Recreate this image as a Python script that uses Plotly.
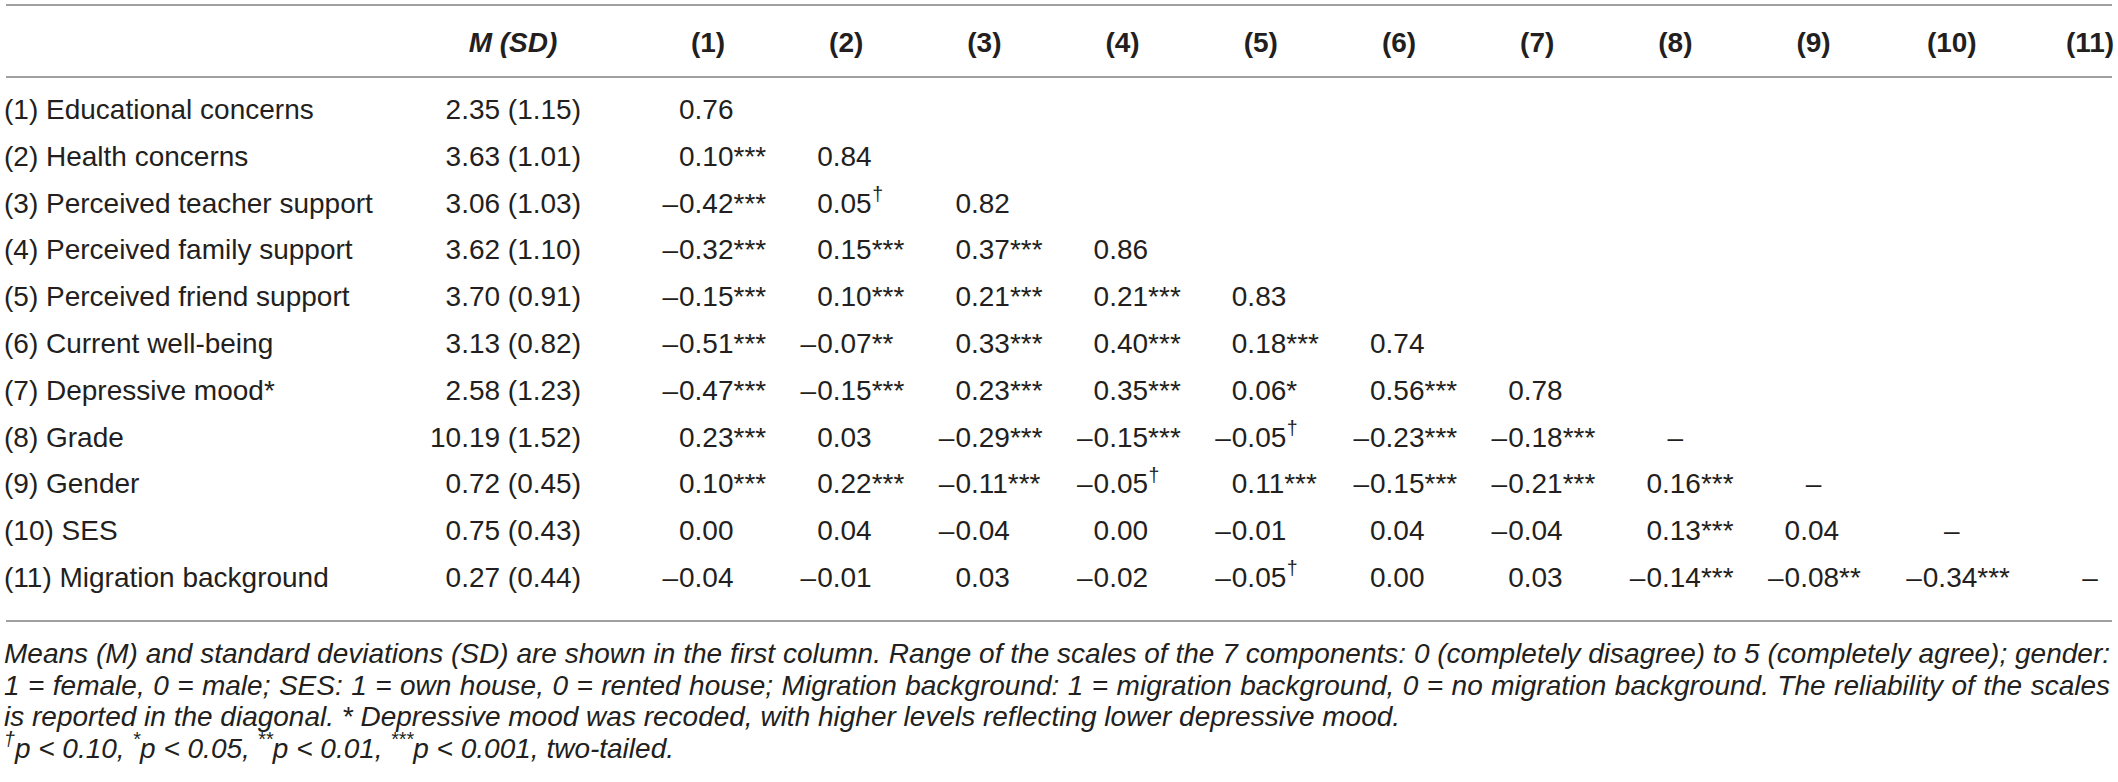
import plotly.graph_objects as go

# ---------------- data ----------------
row_labels = [
    "(1) Educational concerns",
    "(2) Health concerns",
    "(3) Perceived teacher support",
    "(4) Perceived family support",
    "(5) Perceived friend support",
    "(6) Current well-being",
    "(7) Depressive mood*",
    "(8) Grade",
    "(9) Gender",
    "(10) SES",
    "(11) Migration background",
]
col_headers = ["(1)", "(2)", "(3)", "(4)", "(5)", "(6)", "(7)", "(8)", "(9)", "(10)", "(11)"]
means = [2.35, 3.63, 3.06, 3.62, 3.70, 3.13, 2.58, 10.19, 0.72, 0.75, 0.27]
sds = [1.15, 1.01, 1.03, 1.10, 0.91, 0.82, 1.23, 1.52, 0.45, 0.43, 0.44]
reliability = [0.76, 0.84, 0.82, 0.86, 0.83, 0.74, 0.78, None, None, None, None]
corr = [
    [],
    [0.10],
    [-0.42, 0.05],
    [-0.32, 0.15, 0.37],
    [-0.15, 0.10, 0.21, 0.21],
    [-0.51, -0.07, 0.33, 0.40, 0.18],
    [-0.47, -0.15, 0.23, 0.35, 0.06, 0.56],
    [0.23, 0.03, -0.29, -0.15, -0.05, -0.23, -0.18],
    [0.10, 0.22, -0.11, -0.05, 0.11, -0.15, -0.21, 0.16],
    [0.00, 0.04, -0.04, 0.00, -0.01, 0.04, -0.04, 0.13, 0.04],
    [-0.04, -0.01, 0.03, -0.02, -0.05, 0.00, 0.03, -0.14, -0.08, -0.34],
]
sig = [
    [],
    ["***"],
    ["***", "†"],
    ["***", "***", "***"],
    ["***", "***", "***", "***"],
    ["***", "**", "***", "***", "***"],
    ["***", "***", "***", "***", "*", "***"],
    ["***", "", "***", "***", "†", "***", "***"],
    ["***", "***", "***", "†", "***", "***", "***", "***"],
    ["", "", "", "", "", "", "", "***", ""],
    ["", "", "", "", "†", "", "", "***", "**", "***"],
]
note_lines = [
    "Means (M) and standard deviations (SD) are shown in the first column. Range of the scales of the 7 components: 0 (completely disagree) to 5 (completely agree); gender:",
    "1 = female, 0 = male; SES: 1 = own house, 0 = rented house; Migration background: 1 = migration background, 0 = no migration background. The reliability of the scales",
    "is reported in the diagonal. * Depressive mood was recoded, with higher levels reflecting lower depressive mood.",
]
sig_marks = ["†", "*", "**", "***"]
sig_levels = ["0.10", "0.05", "0.01", "0.001"]
sig_tail = "two-tailed."

# ---------------- layout constants ----------------
W, H = 2118, 782
FONT = "Liberation Sans, Arial, sans-serif"
INK = "#231f20"
RULE = "#a0a0a0"
FS = 28
FS_NOTE = 28
SUP = 0.7           # superscript size factor
SUP_RAISE = 0.42    # superscript baseline raise (x font size)
LABEL_X = 4
MSD_RIGHT = 581
MSD_HEAD_X = 513
COL0, COLSTEP = 679, 138.2
HEAD_OFF = 29
HEAD_Y = 45
ROW0, ROWH = 112, 46.8
RULES_Y = [5, 77, 621]
RULE_X0, RULE_X1 = 6, 2112
NOTE_X0, NOTE_X1 = 4, 2110
NOTE_Y0, NOTE_DY = 656, 31.7

digit_x = [COL0 + j * COLSTEP for j in range(len(col_headers))]
head_x = [d + HEAD_OFF for d in digit_x]
row_y = [ROW0 + i * ROWH for i in range(len(row_labels))]

# Liberation Sans (Arial-metric) advance widths, 1/1000 em
AW = {' ': 278, '(': 333, ')': 333, '*': 389, ',': 278, '-': 333, '.': 278, ':': 278, ';': 278,
      '=': 584, '<': 584, '†': 556}
for ch in "0123456789":
    AW[ch] = 556
AW.update({'A': 667, 'B': 667, 'C': 722, 'D': 722, 'E': 667, 'F': 611, 'G': 778, 'H': 722, 'I': 278,
           'J': 500, 'K': 667, 'L': 556, 'M': 833, 'N': 722, 'O': 778, 'P': 667, 'Q': 778, 'R': 722,
           'S': 667, 'T': 611, 'U': 722, 'V': 667, 'W': 944, 'X': 667, 'Y': 667, 'Z': 611,
           'a': 556, 'b': 556, 'c': 500, 'd': 556, 'e': 556, 'f': 278, 'g': 556, 'h': 556, 'i': 222,
           'j': 222, 'k': 500, 'l': 222, 'm': 833, 'n': 556, 'o': 556, 'p': 556, 'q': 556, 'r': 333,
           's': 500, 't': 278, 'u': 556, 'v': 500, 'w': 722, 'x': 500, 'y': 500, 'z': 500})


def text_w(s, fs):
    return sum(AW.get(c, 556) for c in s) / 1000.0 * fs


def sup_y(y, fs):
    # y for a 'middle' positioned superscript whose baseline is raised above the main text's
    base = y + 0.25 * fs
    return base - SUP_RAISE * fs - 0.25 * fs * SUP


# ---------------- build text marks ----------------
body_x, body_y, body_t = [], [], []
dag_x, dag_y = [], []
minus_x, minus_y = [], []
dash_x, dash_y = [], []
for i in range(len(row_labels)):
    for j, v in enumerate(corr[i]):
        num = f"{abs(v):.2f}"
        s = sig[i][j]
        body_x.append(digit_x[j]); body_y.append(row_y[i])
        body_t.append(num + ("" if s == "†" else s))
        if s == "†":
            dag_x.append(digit_x[j] + text_w(num, FS) + 0.5); dag_y.append(sup_y(row_y[i], FS))
        if v < 0:
            minus_x.append(digit_x[j] - 1); minus_y.append(row_y[i])
    if reliability[i] is not None:
        body_x.append(digit_x[i]); body_y.append(row_y[i]); body_t.append(f"{reliability[i]:.2f}")
    else:
        dash_x.append(head_x[i]); dash_y.append(row_y[i])

fig = go.Figure()


def add_text(x, y, text, pos, size=FS, style="normal", weight="normal"):
    fig.add_trace(go.Scatter(
        x=x, y=y, text=text, mode="text", textposition=pos, cliponaxis=False,
        hoverinfo="skip", showlegend=False,
        textfont=dict(family=FONT, size=size, color=INK, style=style, weight=weight)))


# header
add_text([MSD_HEAD_X], [HEAD_Y], ["M (SD)"], "middle center", style="italic", weight="bold")
add_text(head_x, [HEAD_Y] * len(col_headers), col_headers, "middle center", weight="bold")
# row labels and M (SD)
add_text([LABEL_X] * len(row_labels), row_y, row_labels, "middle right")
add_text([MSD_RIGHT] * len(row_labels), row_y,
         [f"{m:.2f} ({s:.2f})" for m, s in zip(means, sds)], "middle left")
# correlations
add_text(body_x, body_y, body_t, "middle right")
add_text(dag_x, dag_y, ["†"] * len(dag_x), "middle right", size=FS * SUP)
add_text(minus_x, minus_y, ["–"] * len(minus_x), "middle left")
add_text(dash_x, dash_y, ["–"] * len(dash_x), "middle center")

# notes: first two lines justified to the full width
nx, ny, nt = [], [], []
for k, line in enumerate(note_lines):
    y = NOTE_Y0 + k * NOTE_DY
    words = line.split(" ")
    if k < 2:
        widths = [text_w(w, FS_NOTE) for w in words]
        gap = (NOTE_X1 - NOTE_X0 - sum(widths)) / (len(words) - 1)
        x = NOTE_X0
        for w, wd in zip(words, widths):
            nx.append(x); ny.append(y); nt.append(w)
            x += wd + gap
    else:
        nx.append(NOTE_X0); ny.append(y); nt.append(line)

# significance line: superscript marks + "p < level,"
y4 = NOTE_Y0 + 3 * NOTE_DY
sx, sy, st = [], [], []
x = NOTE_X0
for mark, lev in zip(sig_marks, sig_levels):
    sx.append(x); sy.append(sup_y(y4, FS_NOTE)); st.append(mark)
    x += text_w(mark, FS_NOTE * SUP)
    plain = f"p < {lev},"
    nx.append(x); ny.append(y4); nt.append(f"p &lt; {lev},")
    x += text_w(plain + " ", FS_NOTE)
nx.append(x); ny.append(y4); nt.append(sig_tail)

add_text(nx, ny, nt, "middle right", size=FS_NOTE, style="italic")
add_text(sx, sy, st, "middle right", size=FS_NOTE * SUP, style="italic")

for ry in RULES_Y:
    fig.add_shape(type="line", xref="x", yref="y", x0=RULE_X0, x1=RULE_X1, y0=ry, y1=ry,
                  line=dict(color=RULE, width=2))

fig.update_layout(
    width=W, height=H, margin=dict(l=0, r=0, t=0, b=0),
    paper_bgcolor="white", plot_bgcolor="white",
    xaxis=dict(range=[0, W], visible=False, fixedrange=True),
    yaxis=dict(range=[H, 0], visible=False, fixedrange=True),
    showlegend=False,
)

fig.write_html("out.html", config={"displayModeBar": False},
               post_script="document.body.style.margin='0';document.body.style.overflow='hidden';")
